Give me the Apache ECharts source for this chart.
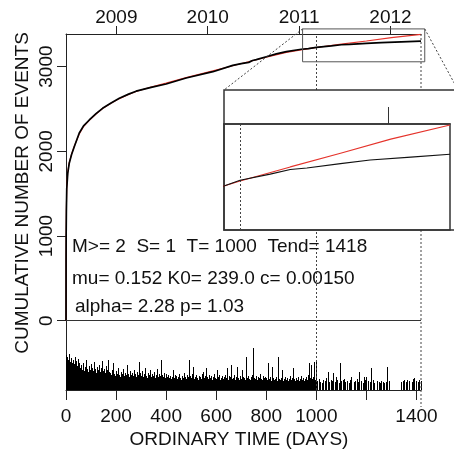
<!DOCTYPE html>
<html><head><meta charset="utf-8">
<script src="https://cdn.jsdelivr.net/npm/echarts@6/dist/echarts.min.js"></script>
<style>html,body{margin:0;padding:0;background:#fff}#c{width:454px;height:450px}</style>
</head><body><div id="c"></div>
<script>
// ---- data ----
const blackDays   = [0, 0.2, 0.6, 1.5, 3, 7, 13, 22, 33, 53, 70, 93, 120, 146, 180, 213, 250, 280, 340, 400, 480, 587, 666, 700, 730, 745, 760, 800, 840, 880, 940, 968, 1000, 1060, 1100, 1133, 1200, 1259, 1340, 1418];
const blackCounts = [0, 700, 1000, 1300, 1560, 1740, 1860, 1960, 2054, 2216, 2300, 2370, 2445, 2508, 2570, 2626, 2675, 2710, 2755, 2795, 2865, 2940, 3015, 3035, 3050, 3072, 3082, 3117, 3150, 3176, 3205, 3212, 3228, 3245, 3258, 3262, 3274, 3284, 3292, 3300];
const redDays     = [0, 0.2, 0.6, 1.5, 3, 7, 13, 22, 33, 53, 70, 93, 120, 146, 180, 213, 250, 280, 340, 400, 480, 587, 666, 733, 800, 880, 968, 1000, 1100, 1200, 1300, 1418];
const redCounts   = [0, 650, 980, 1320, 1580, 1760, 1870, 1965, 2060, 2205, 2290, 2365, 2440, 2505, 2568, 2622, 2670, 2705, 2760, 2805, 2870, 2950, 3010, 3060, 3110, 3168, 3212, 3226, 3265, 3303, 3342, 3381];

// magnitudes, one value per 4-day bin (null = no event)
const magBins1 = [
 5.5,5.3,4.9,5.6,4.7,5.2,4.6,4.9,4.5,5.3,
 4.8,4.2,5.0,4.6,4.0,4.3,3.8,4.6,3.6,4.1,
 4.9,3.9,3.5,4.2,3.8,4.5,4.0,3.6,4.7,3.9,
 3.4,4.1,3.8,4.3,3.5,4.0,4.8,3.6,3.9,3.4,
 4.2,3.8,4.9,3.5,3.4,3.2,3.8,4.6,3.3,3.0,
 3.6,3.3,4.0,3.2,2.9,3.5,3.3,3.9,3.0,3.4,
 3.2,4.3,3.3,2.9,3.6,3.2,3.4,3.0,3.8,3.3,
 2.9,3.5,3.2,4.7,3.4,3.0,3.6,2.9,3.3,4.0,
 3.0,2.8,3.4,3.2,3.8,2.9,3.3,3.0,3.5,2.8,
 3.2,3.9,2.9,3.3,3.0,4.9,3.2,2.9,3.4,2.8];
const magBins2 = [
 3.3,2.9,3.2,2.8,3.0,2.7,2.9,3.8,2.8,3.2,
 3.0,2.7,2.9,3.3,2.8,2.6,3.0,2.8,3.4,2.9,
 2.7,3.2,2.9,4.9,3.0,2.8,3.3,4.1,2.7,2.9,
 3.2,2.8,2.6,3.0,2.9,2.7,3.3,3.5,2.8,3.0,
 4.0,2.9,2.7,3.2,2.8,3.0,2.6,2.9,3.3,2.8,
 2.7,3.8,2.9,3.2,2.6,2.8,3.0,2.7,2.9,3.2,
 2.8,4.0,2.6,3.0,2.9,4.3,2.7,2.8,3.2,2.6,
 2.9,4.1,2.8,2.6,3.0,2.7,3.8,2.9,2.8,2.6,
 5.3,2.8,3.0,2.7,2.6,2.9,3.2,6.3,2.8,2.7,
 3.0,2.6,2.9,2.8,3.3,2.7,2.6,3.0,2.8,2.9];
const magBins3 = [
 2.8,2.6,4.6,2.7,2.9,2.5,4.1,2.8,2.6,2.7,
 2.9,2.5,5.3,2.7,2.6,2.8,3.8,2.5,2.7,2.9,
 2.6,2.8,2.5,2.7,3.0,2.6,2.8,4.0,2.7,2.5,
 2.8,2.6,2.9,2.5,2.7,3.0,2.6,2.8,2.5,2.7,
 2.9,2.6,3.2,4.6,2.8,4.3,2.7,2.9,4.7,2.6,
 4.9,2.5,null,2.7,2.3,null,2.2,2.6,null,2.5,
 2.8,null,3.5,2.3,null,2.6,2.5,3.4,null,2.3,
 2.9,2.6,null,2.2,4.6,2.5,null,2.6,2.7,2.3,
 null,2.5,null,2.2,2.6,2.9,null,null,2.3,2.5,
 null,2.7,2.3,3.5,null,2.5,null,2.2,2.9,2.6];
const magBins4 = [
 2.9,null,2.5,null,2.3,4.0,null,2.6,2.2,null,
 null,2.5,null,2.3,2.2,2.5,null,2.3,2.2,null,
 2.3,4.1,null,2.5,null,null,null,null,null,null,
 null,null,null,null,null,2.3,null,2.5,2.6,null,
 2.3,2.6,null,2.5,null,null,2.3,2.7,2.8,null,
 2.5,null,2.3,2.6,2.5];

const bottomTicks  = [0, 200, 400, 600, 800, 1000, 1200, 1400];
const bottomLabels = [0, 200, 400, 600, 800, 1000, 1400];
const yearDays   = [201, 566, 931, 1296];
const yearLabels = ['2009', '2010', '2011', '2012'];
const countTicks = [0, 1000, 2000, 3000];
const paramLines = ['M>= 2  S= 1  T= 1000  Tend= 1418', 'mu= 0.152 K0= 239.0 c= 0.00150', 'alpha= 2.28 p= 1.03'];
const T_START = 1000, T_END = 1418;
const BIN_DAYS = 4;
const MAG_BASE = 1.4;

// ---- chart ----
const FONT = '"Liberation Sans", Arial, Helvetica, sans-serif';
const INK = '#111';
const chart = echarts.init(document.getElementById('c'), null, {renderer: 'canvas'});

const mags = magBins1.concat(magBins2, magBins3, magBins4);
const spikeData = [];
mags.forEach((m, i) => { if (m != null) spikeData.push([BIN_DAYS * i + BIN_DAYS / 2, m]); });

const blackData = blackDays.map((d, i) => [d, blackCounts[i]]);
const redData = redDays.map((d, i) => [d, redCounts[i]]);

const axisLine = {show: true, onZero: false, lineStyle: {color: '#222', width: 1}};
const labelStyle = {color: INK, fontSize: 19, fontFamily: FONT};
const plain = v => String(v);

chart.setOption({
  animation: false,
  backgroundColor: '#fff',
  grid: [
    {left: 66, top: 34, width: 355, height: 356, show: false},
    {left: 224, top: 124, width: 226, height: 106, show: true, borderColor: '#333', borderWidth: 1.5, backgroundColor: 'transparent', z: 20}
  ],
  xAxis: [
    {type: 'value', gridIndex: 0, position: 'bottom', min: 0, max: T_END, interval: 200,
     axisLine, splitLine: {show: false},
     axisTick: {show: true, length: 10, customValues: bottomTicks, lineStyle: {color: '#222'}},
     axisLabel: Object.assign({customValues: bottomLabels, margin: 17, formatter: plain}, labelStyle)},
    {type: 'value', gridIndex: 0, position: 'top', min: 0, max: T_END,
     axisLine, splitLine: {show: false},
     axisTick: {show: true, length: 8, customValues: yearDays, lineStyle: {color: '#222'}},
     axisLabel: Object.assign({customValues: yearDays, margin: 7, formatter: v => yearLabels[yearDays.indexOf(v)] || ''}, labelStyle)},
    {type: 'value', gridIndex: 1, position: 'top', min: 968, max: T_END, z: 20,
     axisLine: {show: true, onZero: false, lineStyle: {color: '#333', width: 1.5}}, splitLine: {show: false},
     axisTick: {show: true, length: 17, customValues: [yearDays[3]], lineStyle: {color: '#333'}},
     axisLabel: {show: false}}
  ],
  yAxis: [
    {type: 'value', gridIndex: 0, min: -818, max: 3385,
     axisLine, splitLine: {show: false},
     axisTick: {show: true, length: 9, customValues: countTicks, lineStyle: {color: '#222'}},
     axisLabel: Object.assign({customValues: countTicks, rotate: 90, margin: 10, formatter: plain}, labelStyle)},
    {type: 'value', gridIndex: 0, min: MAG_BASE, max: 43.28, show: false},
    {type: 'value', gridIndex: 1, min: 3090, max: 3384, show: false}
  ],
  series: [
    {type: 'custom', name: 'magnitude', xAxisIndex: 0, yAxisIndex: 1, z: 2, data: spikeData,
     renderItem: (params, api) => {
       const top = api.coord([api.value(0), api.value(1)]);
       const base = api.coord([api.value(0), MAG_BASE]);
       const x = Math.floor(top[0]);
       return {type: 'rect', shape: {x: x, y: Math.round(top[1]), width: 1, height: Math.round(base[1]) - Math.round(top[1])}, style: {fill: '#000'}};
     }},
    {type: 'line', name: 'model', xAxisIndex: 0, yAxisIndex: 0, z: 3, data: redData, showSymbol: false,
     lineStyle: {color: '#e5332b', width: 1.1}},
    {type: 'line', name: 'observed', xAxisIndex: 0, yAxisIndex: 0, z: 4, data: blackData, showSymbol: false,
     lineStyle: {color: '#000', width: 1.7},
     markLine: {silent: true, symbol: 'none', label: {show: false}, z: 5,
       data: [
         {yAxis: 0, lineStyle: {type: 'solid', color: '#333', width: 1}},
         {xAxis: T_START, lineStyle: {type: [2, 2], color: '#444', width: 1}}
       ]}},
    {type: 'line', name: 'model inset', xAxisIndex: 2, yAxisIndex: 2, z: 21, data: redData, showSymbol: false, clip: true,
     lineStyle: {color: '#e5332b', width: 1.1}},
    {type: 'line', name: 'observed inset', xAxisIndex: 2, yAxisIndex: 2, z: 22, data: blackData, showSymbol: false, clip: true,
     lineStyle: {color: '#111', width: 1.1},
     markLine: {silent: true, symbol: 'none', label: {show: false}, z: 22,
       data: [{xAxis: T_START, lineStyle: {type: [2, 2], color: '#444', width: 1}}]}}
  ]
});

// ---- annotations positioned through the axes ----
const px = (d, v) => chart.convertToPixel({xAxisIndex: 0, yAxisIndex: 0}, [d, v]);
const tendTop = px(T_END, 3385), tendBot = px(T_END, -818);
const zr0 = px(945, 3445), zr1 = px(1433, 3057);
const insetLeft = 224, insetTop = 90, insetRight = 458, insetBottom = 230;
const textStyle = (t, x, y) => ({type: 'text', z: 30, style: {text: t, x, y, fill: INK, font: '19px ' + FONT, textVerticalAlign: 'middle', verticalAlign: 'middle'}});

chart.setOption({
  graphic: [
    {type: 'line', z: 6, shape: {x1: tendTop[0], y1: tendTop[1], x2: tendBot[0], y2: tendBot[1] + 17},
     style: {stroke: '#444', lineWidth: 1, lineDash: [2, 2]}},
    {type: 'rect', z: 8, shape: {x: insetLeft, y: insetTop, width: insetRight - insetLeft, height: insetBottom - insetTop},
     style: {fill: '#fff', stroke: '#333', lineWidth: 1.5}},
    {type: 'rect', z: 9, shape: {x: zr0[0], y: zr0[1], width: zr1[0] - zr0[0], height: zr1[1] - zr0[1]},
     style: {fill: 'none', stroke: '#555', lineWidth: 1}},
    {type: 'line', z: 9, shape: {x1: zr0[0], y1: zr0[1], x2: insetLeft, y2: insetTop},
     style: {stroke: '#444', lineWidth: 1, lineDash: [2, 2]}},
    {type: 'line', z: 9, shape: {x1: zr1[0], y1: zr0[1], x2: insetRight, y2: insetTop},
     style: {stroke: '#444', lineWidth: 1, lineDash: [2, 2]}},
    textStyle(paramLines[0], 72, 247),
    textStyle(paramLines[1], 72, 278.5),
    textStyle(paramLines[2], 75, 307),
    {type: 'text', z: 30, x: 239, y: 440, style: {text: 'ORDINARY TIME (DAYS)', fill: INK, font: '19px ' + FONT, textAlign: 'center', align: 'center', textVerticalAlign: 'middle', verticalAlign: 'middle'}},
    {type: 'text', z: 30, x: 22.5, y: 193, rotation: Math.PI / 2, style: {text: 'CUMULATIVE NUMBER OF EVENTS', fill: INK, font: '19px ' + FONT, textAlign: 'center', align: 'center', textVerticalAlign: 'middle', verticalAlign: 'middle'}}
  ]
});
</script></body></html>
